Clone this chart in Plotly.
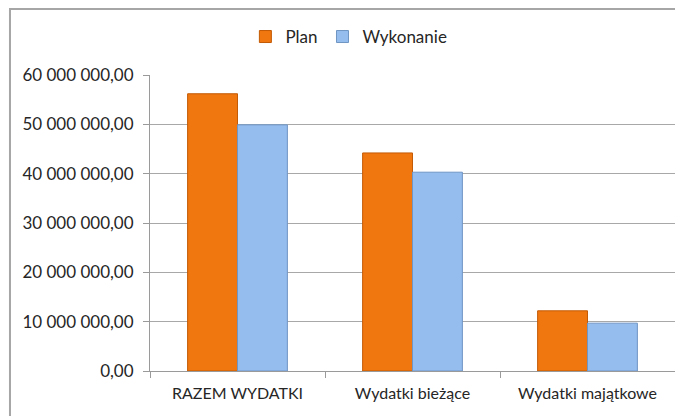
import plotly.graph_objects as go

categories = ["RAZEM WYDATKI", "Wydatki bieżące", "Wydatki majątkowe"]
plan = [56200000, 44200000, 12200000]
wykonanie = [49900000, 40300000, 9700000]

font = dict(family="Lato, 'Open Sans', sans-serif", size=16, color="#262626")

fig = go.Figure()
fig.add_trace(go.Bar(
    x=categories, y=plan, name="Plan",
    marker=dict(color="#f0760f", line=dict(color="#c35a05", width=1)),
))
fig.add_trace(go.Bar(
    x=categories, y=wykonanie, name="Wykonanie",
    marker=dict(color="#95bdee", line=dict(color="#6f95c4", width=1)),
))

# page body adds ~8px offset, so the figure is sized a bit smaller
fig.update_layout(
    width=675, height=408,
    margin=dict(l=142, r=8, t=67, b=45, autoexpand=False),
    paper_bgcolor="white", plot_bgcolor="white",
    font=font,
    separators=", ",
    barmode="group", bargap=0.43, bargroupgap=0,
    showlegend=True,
    legend=dict(orientation="h", xref="container", yref="container",
                x=0.505, xanchor="center", y=0.929, yanchor="middle",
                bgcolor="rgba(0,0,0,0)", font=dict(size=17),
                itemwidth=30, traceorder="normal"),
    xaxis=dict(showline=True, linecolor="#9a9a9a", linewidth=1,
               ticks="outside", tickson="boundaries", ticklen=6, tickcolor="#9a9a9a",
               ticklabelstandoff=8, tickfont=dict(size=16)),
    yaxis=dict(range=[0, 60000000], dtick=10000000, tickformat=",.2f",
               showline=True, linecolor="#9a9a9a", linewidth=1,
               ticks="outside", ticklen=6, tickcolor="#9a9a9a",
               showgrid=True, gridcolor="#a8a8a8", gridwidth=1,
               zeroline=False, ticklabelstandoff=6, tickfont=dict(size=17)),
    shapes=[dict(type="rect", xref="paper", yref="paper",
                 x0=-0.2667, x1=1.03, y0=-0.17, y1=1.223,
                 line=dict(color="#a6a6a6", width=2), layer="below")],
)

fig.write_html("out.html")
